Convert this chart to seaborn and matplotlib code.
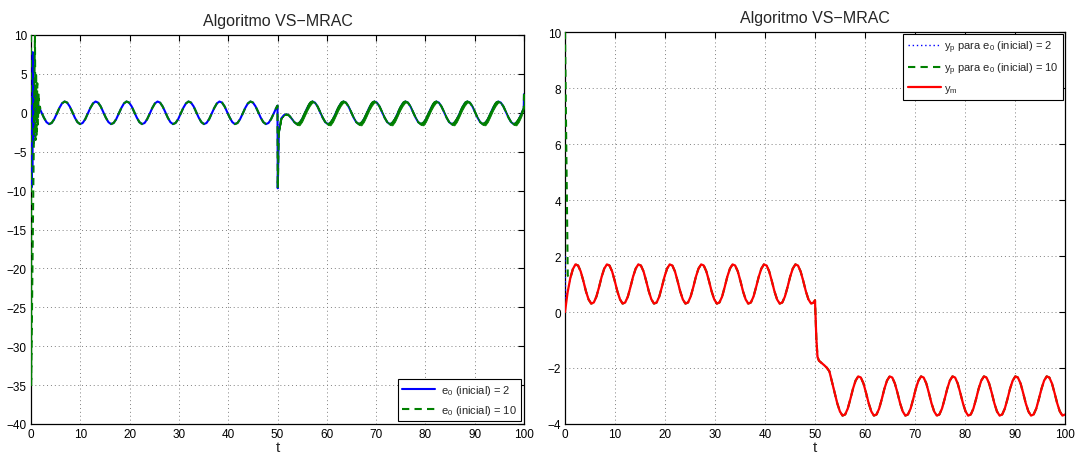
import matplotlib
matplotlib.use("Agg")
import matplotlib.pyplot as plt
import seaborn as sns

# ---------------- data ----------------
# Right panel: reference-model output ym (sample times and values)
ym_t = [
    0.00, 0.52, 1.05, 1.57, 2.09, 2.62, 3.14, 3.67, 4.19, 4.71, 5.24, 5.76,
    6.28, 6.81, 7.33, 7.85, 8.38, 8.90, 9.42, 9.95, 10.47, 11.00, 11.52, 12.04,
    12.57, 13.09, 13.61, 14.14, 14.66, 15.18, 15.71, 16.23, 16.76, 17.28, 17.80, 18.33,
    18.85, 19.37, 19.90, 20.42, 20.94, 21.47, 21.99, 22.51, 23.04, 23.56, 24.09, 24.61,
    25.13, 25.66, 26.18, 26.70, 27.23, 27.75, 28.27, 28.80, 29.32, 29.85, 30.37, 30.89,
    31.42, 31.94, 32.46, 32.99, 33.51, 34.03, 34.56, 35.08, 35.60, 36.13, 36.65, 37.18,
    37.70, 38.22, 38.75, 39.27, 39.79, 40.32, 40.84, 41.36, 41.89, 42.41, 42.94, 43.46,
    43.98, 44.51, 45.03, 45.55, 46.08, 46.60, 47.12, 47.65, 48.17, 48.69, 49.22, 49.74,
    50.00, 50.27, 50.50, 50.79, 51.31, 51.84, 52.36, 52.88, 53.41, 53.93, 54.45, 54.98, 55.50, 56.03,
    56.55, 57.07, 57.60, 58.12, 58.64, 59.17, 59.69, 60.21, 60.74, 61.26, 61.78, 62.31,
    62.83, 63.36, 63.88, 64.40, 64.93, 65.45, 65.97, 66.50, 67.02, 67.54, 68.07, 68.59,
    69.12, 69.64, 70.16, 70.69, 71.21, 71.73, 72.26, 72.78, 73.30, 73.83, 74.35, 74.87,
    75.40, 75.92, 76.45, 76.97, 77.49, 78.02, 78.54, 79.06, 79.59, 80.11, 80.63, 81.16,
    81.68, 82.21, 82.73, 83.25, 83.78, 84.30, 84.82, 85.35, 85.87, 86.39, 86.92, 87.44,
    87.96, 88.49, 89.01, 89.54, 90.06, 90.58, 91.11, 91.63, 92.15, 92.68, 93.20, 93.72,
    94.25, 94.77, 95.30, 95.82, 96.34, 96.87, 97.39, 97.91, 98.44, 98.96, 99.48, 100.01,
]
ym = [
    0.00, 0.70, 1.20, 1.53, 1.70, 1.66, 1.45, 1.11, 0.74, 0.45, 0.30, 0.34,
    0.55, 0.89, 1.26, 1.55, 1.70, 1.66, 1.45, 1.11, 0.74, 0.45, 0.30, 0.34,
    0.55, 0.89, 1.26, 1.55, 1.70, 1.66, 1.45, 1.11, 0.74, 0.45, 0.30, 0.34,
    0.55, 0.89, 1.26, 1.55, 1.70, 1.66, 1.45, 1.11, 0.74, 0.45, 0.30, 0.34,
    0.55, 0.89, 1.26, 1.55, 1.70, 1.66, 1.45, 1.11, 0.74, 0.45, 0.30, 0.34,
    0.55, 0.89, 1.26, 1.55, 1.70, 1.66, 1.45, 1.11, 0.74, 0.45, 0.30, 0.34,
    0.55, 0.89, 1.26, 1.55, 1.70, 1.66, 1.45, 1.11, 0.74, 0.45, 0.30, 0.34,
    0.55, 0.89, 1.26, 1.55, 1.70, 1.66, 1.45, 1.11, 0.74, 0.45, 0.30, 0.34,
    0.42, -0.95, -1.60, -1.74, -1.82, -1.90, -1.99, -2.12, -2.50, -2.87, -3.26, -3.55, -3.70, -3.66,
    -3.45, -3.11, -2.74, -2.45, -2.30, -2.34, -2.55, -2.89, -3.26, -3.55, -3.70, -3.66,
    -3.45, -3.11, -2.74, -2.45, -2.30, -2.34, -2.55, -2.89, -3.26, -3.55, -3.70, -3.66,
    -3.45, -3.11, -2.74, -2.45, -2.30, -2.34, -2.55, -2.89, -3.26, -3.55, -3.70, -3.66,
    -3.45, -3.11, -2.74, -2.45, -2.30, -2.34, -2.55, -2.89, -3.26, -3.55, -3.70, -3.66,
    -3.45, -3.11, -2.74, -2.45, -2.30, -2.34, -2.55, -2.89, -3.26, -3.55, -3.70, -3.66,
    -3.45, -3.11, -2.74, -2.45, -2.30, -2.34, -2.55, -2.89, -3.26, -3.55, -3.70, -3.66,
    -3.45, -3.11, -2.74, -2.45, -2.30, -2.34, -2.55, -2.89, -3.26, -3.55, -3.70, -3.66,
]
# Plant outputs: start-up transients, afterwards they lie on ym
yp2_start_t = [0.00, 0.12]
yp2_start = [2.0, 0.5]
yp10_start_t = [0.00, 0.55]
yp10_start = [10.0, 1.3]

# Left panel: error e0, start-up transients of the two runs
e0_2_start_t = [0.00, 0.10, 0.18, 0.26, 0.36, 0.46, 0.56, 0.68, 0.80, 0.92, 1.06, 1.20, 1.35, 1.57]
e0_2_start = [2.0, -9.6, 1.0, -7.0, 7.8, -4.0, 4.0, -3.0, 2.5, -0.5, 1.8, 0.9, 1.15, 0.82]
e0_10_start_t = [0.00, 0.04, 0.80, 0.92, 1.03, 1.15, 1.27, 1.40, 1.53, 1.66, 1.80]
e0_10_start = [10.0, -35.0, 10.0, -3.5, 5.2, -3.0, 3.8, -1.5, 2.5, -0.3, 0.8]
# common part of e0 (both runs)
e0_tail_t = [
    2.09, 2.62, 3.14, 3.67, 4.19, 4.71, 5.24, 5.76,
    6.28, 6.81, 7.33, 7.85, 8.38, 8.90, 9.42, 9.95, 10.47, 11.00, 11.52, 12.04,
    12.57, 13.09, 13.61, 14.14, 14.66, 15.18, 15.71, 16.23, 16.76, 17.28, 17.80, 18.33,
    18.85, 19.37, 19.90, 20.42, 20.94, 21.47, 21.99, 22.51, 23.04, 23.56, 24.09, 24.61,
    25.13, 25.66, 26.18, 26.70, 27.23, 27.75, 28.27, 28.80, 29.32, 29.85, 30.37, 30.89,
    31.42, 31.94, 32.46, 32.99, 33.51, 34.03, 34.56, 35.08, 35.60, 36.13, 36.65, 37.18,
    37.70, 38.22, 38.75, 39.27, 39.79, 40.32, 40.84, 41.36, 41.89, 42.41, 42.94, 43.46,
    43.98, 44.51, 45.03, 45.55, 46.08, 46.60, 47.12, 47.65, 48.17, 48.69, 49.22, 49.74,
    50.00, 50.05,
    50.27, 50.79, 51.31, 51.84, 52.36, 52.88, 53.41, 53.93, 54.45, 54.98, 55.50, 56.03,
    56.55, 57.07, 57.60, 58.12, 58.64, 59.17, 59.69, 60.21, 60.74, 61.26, 61.78, 62.31,
    62.83, 63.36, 63.88, 64.40, 64.93, 65.45, 65.97, 66.50, 67.02, 67.54, 68.07, 68.59,
    69.12, 69.64, 70.16, 70.69, 71.21, 71.73, 72.26, 72.78, 73.30, 73.83, 74.35, 74.87,
    75.40, 75.92, 76.45, 76.97, 77.49, 78.02, 78.54, 79.06, 79.59, 80.11, 80.63, 81.16,
    81.68, 82.21, 82.73, 83.25, 83.78, 84.30, 84.82, 85.35, 85.87, 86.39, 86.92, 87.44,
    87.96, 88.49, 89.01, 89.54, 90.06, 90.58, 91.11, 91.63, 92.15, 92.68, 93.20, 93.72,
    94.25, 94.77, 95.30, 95.82, 96.34, 96.87, 97.39, 97.91, 98.44, 98.96, 99.48,
    99.95, 100.00,
]
e0_tail = [
    0.11, -0.63, -1.20, -1.45, -1.31, -0.82, -0.11, 0.63,
    1.20, 1.45, 1.31, 0.82, 0.11, -0.63, -1.20, -1.45, -1.31, -0.82, -0.11, 0.63,
    1.20, 1.45, 1.31, 0.82, 0.11, -0.63, -1.20, -1.45, -1.31, -0.82, -0.11, 0.63,
    1.20, 1.45, 1.31, 0.82, 0.11, -0.63, -1.20, -1.45, -1.31, -0.82, -0.11, 0.63,
    1.20, 1.45, 1.31, 0.82, 0.11, -0.63, -1.20, -1.45, -1.31, -0.82, -0.11, 0.63,
    1.20, 1.45, 1.31, 0.82, 0.11, -0.63, -1.20, -1.45, -1.31, -0.82, -0.11, 0.63,
    1.20, 1.45, 1.31, 0.82, 0.11, -0.63, -1.20, -1.45, -1.31, -0.82, -0.11, 0.63,
    1.20, 1.45, 1.31, 0.82, 0.11, -0.63, -1.20, -1.45, -1.31, -0.82, -0.11, 0.63,
    0.92, -9.7,
    -2.5, -0.7, -0.3, -0.2, -0.35, -0.75, -1.20, -1.45, -1.31, -0.82, -0.11, 0.63,
    1.20, 1.45, 1.31, 0.82, 0.11, -0.63, -1.20, -1.45, -1.31, -0.82, -0.11, 0.63,
    1.20, 1.45, 1.31, 0.82, 0.11, -0.63, -1.20, -1.45, -1.31, -0.82, -0.11, 0.63,
    1.20, 1.45, 1.31, 0.82, 0.11, -0.63, -1.20, -1.45, -1.31, -0.82, -0.11, 0.63,
    1.20, 1.45, 1.31, 0.82, 0.11, -0.63, -1.20, -1.45, -1.31, -0.82, -0.11, 0.63,
    1.20, 1.45, 1.31, 0.82, 0.11, -0.63, -1.20, -1.45, -1.31, -0.82, -0.11, 0.63,
    1.20, 1.45, 1.31, 0.82, 0.11, -0.63, -1.20, -1.45, -1.31, -0.82, -0.11, 0.63,
    1.20, 1.45, 1.31, 0.82, 0.11, -0.63, -1.20, -1.45, -1.31, -0.82, -0.11,
    0.58, 2.4,
]
# half-width of the chattering band of the e0(inicial)=10 run (from t = 50.27 on)
chatter_w = [
    0, 0, 0, 0, 0, 0, 0, 0.12, 0.30, 0.33, 0.33, 0.33,
    0.30, 0.12, 0, 0, 0, 0, 0, 0.12, 0.30, 0.33, 0.33, 0.33,
    0.30, 0.12, 0, 0, 0, 0, 0, 0.12, 0.30, 0.33, 0.33, 0.33,
    0.30, 0.12, 0, 0, 0, 0, 0, 0.12, 0.30, 0.33, 0.33, 0.33,
    0.30, 0.12, 0, 0, 0, 0, 0, 0.12, 0.30, 0.33, 0.33, 0.33,
    0.30, 0.12, 0, 0, 0, 0, 0, 0.12, 0.30, 0.33, 0.33, 0.33,
    0.30, 0.12, 0, 0, 0, 0, 0, 0.12, 0.30, 0.33, 0.33, 0.33,
    0.30, 0.12, 0, 0, 0, 0, 0, 0.12, 0.30, 0.33, 0.33,
    0, 0,
]

labels_left = [r"e$_0$ (inicial) = 2", r"e$_0$ (inicial) = 10"]
labels_right = [r"y$_\mathrm{p}$ para e$_0$ (inicial) = 2",
                r"y$_\mathrm{p}$ para e$_0$ (inicial) = 10",
                r"y$_\mathrm{m}$"]
title = "Algoritmo VS\u2212MRAC"
yticks_left = [10, 5, 0, -5, -10, -15, -20, -25, -30, -35, -40]
yticks_right = [10, 8, 6, 4, 2, 0, -2, -4]
xticks = [0, 10, 20, 30, 40, 50, 60, 70, 80, 90, 100]

# ---------------- derived series (reuse of read values) ----------------
e0_2_t = e0_2_start_t + e0_tail_t
e0_2 = e0_2_start + e0_tail
e0_10_t = e0_10_start_t + e0_tail_t
e0_10 = e0_10_start + e0_tail
n_ch = len(chatter_w)
ch_t = e0_tail_t[-n_ch:]
ch_lo = [v - w for v, w in zip(e0_tail[-n_ch:], chatter_w)]
ch_hi = [v + w for v, w in zip(e0_tail[-n_ch:], chatter_w)]
yp2_t = yp2_start_t + ym_t[1:]
yp2 = yp2_start + ym[1:]
yp10_t = yp10_start_t + ym_t[2:]
yp10 = yp10_start + ym[2:]

# ---------------- style ----------------
sns.set_theme(style="white")
plt.rcParams["font.family"] = ["Liberation Sans", "DejaVu Sans"]
plt.rcParams["mathtext.fontset"] = "custom"
plt.rcParams["mathtext.rm"] = "Liberation Sans"
plt.rcParams["mathtext.it"] = "Liberation Sans"
plt.rcParams["axes.unicode_minus"] = True

BLUE = (0, 0, 1)
GREEN = (0, 0.5, 0)
RED = (1, 0, 0)

fig = plt.figure(figsize=(10.77, 4.6), dpi=100)
fig.patch.set_facecolor("white")
ax1 = fig.add_axes([31 / 1077, 35 / 460, 493 / 1077, 389 / 460])
ax2 = fig.add_axes([565 / 1077, 35 / 460, 500 / 1077, 392 / 460])


def draw(ax, x, y, **kw):
    sns.lineplot(x=x, y=y, ax=ax, estimator=None, sort=False, legend=False, **kw)
    return ax.lines[-1]


# left panel
h1 = draw(ax1, e0_2_t, e0_2, color=BLUE, linewidth=1.5, zorder=3)
ax1.fill_between(ch_t, ch_lo, ch_hi, color=GREEN, linewidth=0.6, edgecolor=GREEN, zorder=4)
h2 = draw(ax1, e0_10_t, e0_10, color=GREEN, linewidth=1.5,
          linestyle=(0, (3.5, 2.5)), zorder=5)

# right panel
h3 = draw(ax2, yp2_t, yp2, color=BLUE, linewidth=1.0, linestyle=(0, (1, 2)), zorder=3)
h4 = draw(ax2, yp10_t, yp10, color=GREEN, linewidth=1.5,
          linestyle=(0, (3.5, 2.5)), zorder=4)
h5 = draw(ax2, ym_t, ym, color=RED, linewidth=1.6, zorder=5)

for ax, yt, ylim in ((ax1, yticks_left, (-40, 10)), (ax2, yticks_right, (-4, 10))):
    ax.set_xlim(0, 100)
    ax.set_ylim(*ylim)
    ax.set_xticks(xticks)
    ax.set_yticks(yt)
    ax.set_facecolor("white")
    ax.grid(True, color="0.5", linestyle=(0, (1, 3)), linewidth=0.7)
    ax.set_axisbelow(True)
    ax.tick_params(direction="in", top=True, right=True, length=4, width=0.8,
                   labelsize=8.5, pad=3, colors="black")
    for s in ax.spines.values():
        s.set_visible(True)
        s.set_color("black")
        s.set_linewidth(0.9)
    ax.set_xlabel("t", fontsize=11, labelpad=0)
    ax.set_ylabel("")
    ax.set_title(title, fontsize=11.5, pad=7)

leg1 = ax1.legend([h1, h2], labels_left, loc="lower right", fontsize=8,
                  frameon=True, fancybox=False, edgecolor="black", framealpha=1,
                  handlelength=3.0, borderaxespad=0.25, borderpad=0.4,
                  labelspacing=0.5, handletextpad=0.5)
leg1.get_frame().set_linewidth(0.8)
leg2 = ax2.legend([h3, h4, h5], labels_right, loc="upper right", fontsize=8,
                  frameon=True, fancybox=False, edgecolor="black", framealpha=1,
                  handlelength=3.0, borderaxespad=0.15, borderpad=0.4,
                  labelspacing=0.55, handletextpad=0.3)
leg2.get_frame().set_linewidth(0.8)

fig.savefig("out.png", dpi=100, facecolor="white")
